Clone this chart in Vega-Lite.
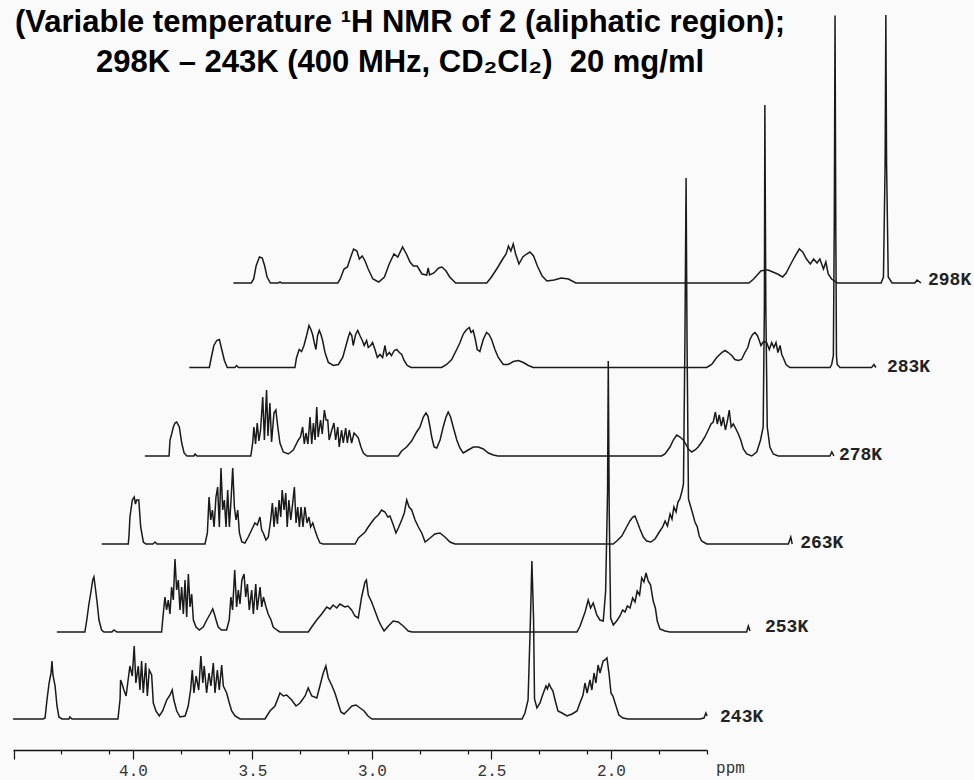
{
"$schema": "https://vega.github.io/schema/vega-lite/v6.json",
"width": 694, "height": 750,
"autosize": {"type": "none"},
"padding": {"left": 13, "top": 0, "right": 267, "bottom": 30},
"background": "#fafafa",
"title": {"text": ["(Variable temperature \u00b9H NMR of 2 (aliphatic region);", "298K \u2013 243K (400 MHz, CD\u2082Cl\u2082)\u00a0\u00a020 mg/ml"], "anchor": "middle", "frame": "group", "dx": 40, "offset": -79, "lineHeight": 40, "font": "Liberation Sans", "fontWeight": "bold", "fontSize": 31, "color": "#000"},
"config": {"view": {"stroke": null}},
"datasets": {
"K243": [{"t":"243K","x":4.502,"y":0},{"t":"243K","x":4.377,"y":0},{"t":"243K","x":4.368,"y":1},{"t":"243K","x":4.360,"y":19},{"t":"243K","x":4.351,"y":36},{"t":"243K","x":4.343,"y":46},{"t":"243K","x":4.339,"y":58},{"t":"243K","x":4.335,"y":44},{"t":"243K","x":4.326,"y":33},{"t":"243K","x":4.318,"y":13},{"t":"243K","x":4.310,"y":2},{"t":"243K","x":4.297,"y":0},{"t":"243K","x":4.268,"y":0},{"t":"243K","x":4.264,"y":2},{"t":"243K","x":4.255,"y":0},{"t":"243K","x":4.063,"y":0},{"t":"243K","x":4.054,"y":20},{"t":"243K","x":4.052,"y":39},{"t":"243K","x":4.047,"y":36},{"t":"243K","x":4.038,"y":29},{"t":"243K","x":4.029,"y":23},{"t":"243K","x":4.022,"y":36},{"t":"243K","x":4.013,"y":53},{"t":"243K","x":4.003,"y":43},{"t":"243K","x":3.995,"y":73},{"t":"243K","x":3.988,"y":36},{"t":"243K","x":3.978,"y":53},{"t":"243K","x":3.971,"y":29},{"t":"243K","x":3.964,"y":58},{"t":"243K","x":3.957,"y":26},{"t":"243K","x":3.947,"y":56},{"t":"243K","x":3.940,"y":23},{"t":"243K","x":3.932,"y":49},{"t":"243K","x":3.922,"y":44},{"t":"243K","x":3.915,"y":16},{"t":"243K","x":3.904,"y":8},{"t":"243K","x":3.890,"y":3},{"t":"243K","x":3.876,"y":8},{"t":"243K","x":3.859,"y":19},{"t":"243K","x":3.845,"y":24},{"t":"243K","x":3.836,"y":29},{"t":"243K","x":3.829,"y":19},{"t":"243K","x":3.817,"y":8},{"t":"243K","x":3.803,"y":2},{"t":"243K","x":3.782,"y":3},{"t":"243K","x":3.769,"y":13},{"t":"243K","x":3.759,"y":29},{"t":"243K","x":3.752,"y":49},{"t":"243K","x":3.745,"y":26},{"t":"243K","x":3.736,"y":43},{"t":"243K","x":3.725,"y":29},{"t":"243K","x":3.716,"y":63},{"t":"243K","x":3.708,"y":36},{"t":"243K","x":3.702,"y":53},{"t":"243K","x":3.692,"y":26},{"t":"243K","x":3.682,"y":46},{"t":"243K","x":3.674,"y":33},{"t":"243K","x":3.664,"y":56},{"t":"243K","x":3.657,"y":26},{"t":"243K","x":3.647,"y":49},{"t":"243K","x":3.639,"y":29},{"t":"243K","x":3.629,"y":54},{"t":"243K","x":3.622,"y":33},{"t":"243K","x":3.608,"y":26},{"t":"243K","x":3.597,"y":16},{"t":"243K","x":3.587,"y":8},{"t":"243K","x":3.573,"y":3},{"t":"243K","x":3.552,"y":0},{"t":"243K","x":3.448,"y":0},{"t":"243K","x":3.427,"y":8},{"t":"243K","x":3.406,"y":13},{"t":"243K","x":3.385,"y":26},{"t":"243K","x":3.371,"y":23},{"t":"243K","x":3.357,"y":24},{"t":"243K","x":3.336,"y":19},{"t":"243K","x":3.318,"y":13},{"t":"243K","x":3.301,"y":16},{"t":"243K","x":3.280,"y":23},{"t":"243K","x":3.267,"y":31},{"t":"243K","x":3.252,"y":23},{"t":"243K","x":3.231,"y":21},{"t":"243K","x":3.218,"y":33},{"t":"243K","x":3.204,"y":46},{"t":"243K","x":3.193,"y":53},{"t":"243K","x":3.183,"y":41},{"t":"243K","x":3.169,"y":34},{"t":"243K","x":3.155,"y":26},{"t":"243K","x":3.142,"y":16},{"t":"243K","x":3.130,"y":7},{"t":"243K","x":3.117,"y":5},{"t":"243K","x":3.100,"y":9},{"t":"243K","x":3.084,"y":13},{"t":"243K","x":3.067,"y":14},{"t":"243K","x":3.050,"y":11},{"t":"243K","x":3.033,"y":8},{"t":"243K","x":3.017,"y":3},{"t":"243K","x":3.000,"y":0},{"t":"243K","x":2.372,"y":0},{"t":"243K","x":2.360,"y":6},{"t":"243K","x":2.347,"y":19},{"t":"243K","x":2.337,"y":100},{"t":"243K","x":2.331,"y":158},{"t":"243K","x":2.324,"y":100},{"t":"243K","x":2.320,"y":20},{"t":"243K","x":2.310,"y":11},{"t":"243K","x":2.297,"y":16},{"t":"243K","x":2.289,"y":22},{"t":"243K","x":2.280,"y":28},{"t":"243K","x":2.272,"y":33},{"t":"243K","x":2.266,"y":30},{"t":"243K","x":2.259,"y":35},{"t":"243K","x":2.251,"y":31},{"t":"243K","x":2.243,"y":28},{"t":"243K","x":2.234,"y":19},{"t":"243K","x":2.222,"y":8},{"t":"243K","x":2.205,"y":6},{"t":"243K","x":2.184,"y":3},{"t":"243K","x":2.163,"y":5},{"t":"243K","x":2.142,"y":8},{"t":"243K","x":2.130,"y":16},{"t":"243K","x":2.117,"y":24},{"t":"243K","x":2.109,"y":36},{"t":"243K","x":2.100,"y":26},{"t":"243K","x":2.088,"y":39},{"t":"243K","x":2.080,"y":29},{"t":"243K","x":2.071,"y":46},{"t":"243K","x":2.063,"y":36},{"t":"243K","x":2.054,"y":54},{"t":"243K","x":2.046,"y":46},{"t":"243K","x":2.033,"y":58},{"t":"243K","x":2.025,"y":59},{"t":"243K","x":2.017,"y":61},{"t":"243K","x":2.008,"y":45},{"t":"243K","x":2.000,"y":26},{"t":"243K","x":1.992,"y":23},{"t":"243K","x":1.979,"y":13},{"t":"243K","x":1.967,"y":4},{"t":"243K","x":1.950,"y":1},{"t":"243K","x":1.929,"y":0},{"t":"243K","x":1.628,"y":0},{"t":"243K","x":1.611,"y":1},{"t":"243K","x":1.603,"y":6},{"t":"243K","x":1.598,"y":3}],
"K253": [{"t":"253K","x":4.500,"y":0},{"t":"253K","x":4.383,"y":0},{"t":"253K","x":4.375,"y":12},{"t":"253K","x":4.366,"y":28},{"t":"253K","x":4.359,"y":38},{"t":"253K","x":4.350,"y":52},{"t":"253K","x":4.345,"y":55},{"t":"253K","x":4.338,"y":42},{"t":"253K","x":4.331,"y":28},{"t":"253K","x":4.324,"y":12},{"t":"253K","x":4.313,"y":2},{"t":"253K","x":4.303,"y":0},{"t":"253K","x":4.270,"y":0},{"t":"253K","x":4.261,"y":2},{"t":"253K","x":4.249,"y":0},{"t":"253K","x":4.062,"y":0},{"t":"253K","x":4.055,"y":18},{"t":"253K","x":4.048,"y":35},{"t":"253K","x":4.041,"y":22},{"t":"253K","x":4.034,"y":32},{"t":"253K","x":4.027,"y":18},{"t":"253K","x":4.020,"y":45},{"t":"253K","x":4.013,"y":32},{"t":"253K","x":4.006,"y":73},{"t":"253K","x":3.999,"y":42},{"t":"253K","x":3.992,"y":52},{"t":"253K","x":3.985,"y":22},{"t":"253K","x":3.978,"y":45},{"t":"253K","x":3.971,"y":18},{"t":"253K","x":3.964,"y":52},{"t":"253K","x":3.957,"y":15},{"t":"253K","x":3.950,"y":58},{"t":"253K","x":3.943,"y":25},{"t":"253K","x":3.936,"y":38},{"t":"253K","x":3.929,"y":12},{"t":"253K","x":3.918,"y":5},{"t":"253K","x":3.904,"y":2},{"t":"253K","x":3.888,"y":5},{"t":"253K","x":3.873,"y":12},{"t":"253K","x":3.859,"y":18},{"t":"253K","x":3.848,"y":23},{"t":"253K","x":3.841,"y":18},{"t":"253K","x":3.834,"y":12},{"t":"253K","x":3.825,"y":5},{"t":"253K","x":3.811,"y":2},{"t":"253K","x":3.790,"y":2},{"t":"253K","x":3.779,"y":12},{"t":"253K","x":3.772,"y":35},{"t":"253K","x":3.765,"y":22},{"t":"253K","x":3.756,"y":62},{"t":"253K","x":3.748,"y":25},{"t":"253K","x":3.741,"y":42},{"t":"253K","x":3.734,"y":28},{"t":"253K","x":3.726,"y":52},{"t":"253K","x":3.717,"y":58},{"t":"253K","x":3.710,"y":35},{"t":"253K","x":3.703,"y":48},{"t":"253K","x":3.695,"y":22},{"t":"253K","x":3.685,"y":42},{"t":"253K","x":3.678,"y":18},{"t":"253K","x":3.668,"y":48},{"t":"253K","x":3.662,"y":22},{"t":"253K","x":3.650,"y":45},{"t":"253K","x":3.643,"y":25},{"t":"253K","x":3.636,"y":35},{"t":"253K","x":3.625,"y":25},{"t":"253K","x":3.616,"y":18},{"t":"253K","x":3.604,"y":12},{"t":"253K","x":3.595,"y":5},{"t":"253K","x":3.580,"y":2},{"t":"253K","x":3.567,"y":0},{"t":"253K","x":3.448,"y":0},{"t":"253K","x":3.434,"y":5},{"t":"253K","x":3.413,"y":12},{"t":"253K","x":3.392,"y":18},{"t":"253K","x":3.371,"y":25},{"t":"253K","x":3.357,"y":23},{"t":"253K","x":3.344,"y":27},{"t":"253K","x":3.329,"y":24},{"t":"253K","x":3.316,"y":28},{"t":"253K","x":3.295,"y":25},{"t":"253K","x":3.282,"y":26},{"t":"253K","x":3.267,"y":22},{"t":"253K","x":3.253,"y":16},{"t":"253K","x":3.239,"y":14},{"t":"253K","x":3.225,"y":35},{"t":"253K","x":3.211,"y":50},{"t":"253K","x":3.205,"y":52},{"t":"253K","x":3.197,"y":37},{"t":"253K","x":3.183,"y":30},{"t":"253K","x":3.169,"y":21},{"t":"253K","x":3.155,"y":12},{"t":"253K","x":3.141,"y":5},{"t":"253K","x":3.131,"y":1},{"t":"253K","x":3.113,"y":6},{"t":"253K","x":3.093,"y":11},{"t":"253K","x":3.072,"y":10},{"t":"253K","x":3.051,"y":6},{"t":"253K","x":3.030,"y":1},{"t":"253K","x":3.014,"y":0},{"t":"253K","x":2.324,"y":0},{"t":"253K","x":2.311,"y":6},{"t":"253K","x":2.290,"y":20},{"t":"253K","x":2.277,"y":32},{"t":"253K","x":2.267,"y":24},{"t":"253K","x":2.256,"y":29},{"t":"253K","x":2.241,"y":17},{"t":"253K","x":2.228,"y":12},{"t":"253K","x":2.214,"y":11},{"t":"253K","x":2.204,"y":41},{"t":"253K","x":2.196,"y":140},{"t":"253K","x":2.193,"y":271},{"t":"253K","x":2.189,"y":120},{"t":"253K","x":2.183,"y":14},{"t":"253K","x":2.172,"y":7},{"t":"253K","x":2.158,"y":11},{"t":"253K","x":2.144,"y":16},{"t":"253K","x":2.133,"y":22},{"t":"253K","x":2.123,"y":20},{"t":"253K","x":2.113,"y":26},{"t":"253K","x":2.102,"y":24},{"t":"253K","x":2.091,"y":34},{"t":"253K","x":2.081,"y":30},{"t":"253K","x":2.072,"y":41},{"t":"253K","x":2.062,"y":37},{"t":"253K","x":2.053,"y":54},{"t":"253K","x":2.044,"y":50},{"t":"253K","x":2.035,"y":59},{"t":"253K","x":2.026,"y":51},{"t":"253K","x":2.016,"y":47},{"t":"253K","x":2.005,"y":31},{"t":"253K","x":1.996,"y":24},{"t":"253K","x":1.988,"y":11},{"t":"253K","x":1.977,"y":3},{"t":"253K","x":1.956,"y":1},{"t":"253K","x":1.935,"y":0},{"t":"253K","x":1.614,"y":0},{"t":"253K","x":1.607,"y":6},{"t":"253K","x":1.600,"y":1}],
"K263": [{"t":"263K","x":4.494,"y":0},{"t":"263K","x":4.383,"y":0},{"t":"263K","x":4.380,"y":8},{"t":"263K","x":4.376,"y":27},{"t":"263K","x":4.366,"y":44},{"t":"263K","x":4.358,"y":47},{"t":"263K","x":4.353,"y":40},{"t":"263K","x":4.348,"y":44},{"t":"263K","x":4.339,"y":44},{"t":"263K","x":4.331,"y":17},{"t":"263K","x":4.320,"y":2},{"t":"263K","x":4.309,"y":0},{"t":"263K","x":4.280,"y":0},{"t":"263K","x":4.271,"y":2},{"t":"263K","x":4.263,"y":0},{"t":"263K","x":4.062,"y":0},{"t":"263K","x":4.052,"y":11},{"t":"263K","x":4.045,"y":47},{"t":"263K","x":4.038,"y":24},{"t":"263K","x":4.031,"y":34},{"t":"263K","x":4.024,"y":17},{"t":"263K","x":4.016,"y":47},{"t":"263K","x":4.009,"y":57},{"t":"263K","x":4.002,"y":17},{"t":"263K","x":3.995,"y":76},{"t":"263K","x":3.988,"y":34},{"t":"263K","x":3.981,"y":44},{"t":"263K","x":3.974,"y":17},{"t":"263K","x":3.967,"y":54},{"t":"263K","x":3.960,"y":17},{"t":"263K","x":3.953,"y":44},{"t":"263K","x":3.946,"y":76},{"t":"263K","x":3.939,"y":37},{"t":"263K","x":3.932,"y":24},{"t":"263K","x":3.925,"y":34},{"t":"263K","x":3.918,"y":11},{"t":"263K","x":3.908,"y":2},{"t":"263K","x":3.895,"y":1},{"t":"263K","x":3.881,"y":7},{"t":"263K","x":3.867,"y":14},{"t":"263K","x":3.853,"y":21},{"t":"263K","x":3.843,"y":19},{"t":"263K","x":3.832,"y":27},{"t":"263K","x":3.825,"y":14},{"t":"263K","x":3.818,"y":11},{"t":"263K","x":3.807,"y":4},{"t":"263K","x":3.797,"y":7},{"t":"263K","x":3.787,"y":24},{"t":"263K","x":3.780,"y":41},{"t":"263K","x":3.773,"y":17},{"t":"263K","x":3.766,"y":37},{"t":"263K","x":3.759,"y":20},{"t":"263K","x":3.752,"y":44},{"t":"263K","x":3.745,"y":27},{"t":"263K","x":3.739,"y":54},{"t":"263K","x":3.731,"y":34},{"t":"263K","x":3.724,"y":51},{"t":"263K","x":3.718,"y":17},{"t":"263K","x":3.711,"y":44},{"t":"263K","x":3.703,"y":24},{"t":"263K","x":3.695,"y":41},{"t":"263K","x":3.688,"y":57},{"t":"263K","x":3.681,"y":21},{"t":"263K","x":3.674,"y":37},{"t":"263K","x":3.667,"y":17},{"t":"263K","x":3.660,"y":37},{"t":"263K","x":3.652,"y":17},{"t":"263K","x":3.644,"y":37},{"t":"263K","x":3.635,"y":21},{"t":"263K","x":3.627,"y":27},{"t":"263K","x":3.620,"y":17},{"t":"263K","x":3.611,"y":21},{"t":"263K","x":3.602,"y":14},{"t":"263K","x":3.592,"y":7},{"t":"263K","x":3.581,"y":1},{"t":"263K","x":3.568,"y":0},{"t":"263K","x":3.434,"y":0},{"t":"263K","x":3.420,"y":6},{"t":"263K","x":3.406,"y":9},{"t":"263K","x":3.392,"y":12},{"t":"263K","x":3.379,"y":17},{"t":"263K","x":3.364,"y":22},{"t":"263K","x":3.351,"y":26},{"t":"263K","x":3.337,"y":29},{"t":"263K","x":3.323,"y":34},{"t":"263K","x":3.309,"y":32},{"t":"263K","x":3.297,"y":27},{"t":"263K","x":3.288,"y":28},{"t":"263K","x":3.274,"y":19},{"t":"263K","x":3.263,"y":11},{"t":"263K","x":3.253,"y":16},{"t":"263K","x":3.239,"y":24},{"t":"263K","x":3.228,"y":31},{"t":"263K","x":3.218,"y":44},{"t":"263K","x":3.208,"y":37},{"t":"263K","x":3.197,"y":34},{"t":"263K","x":3.183,"y":24},{"t":"263K","x":3.169,"y":17},{"t":"263K","x":3.155,"y":11},{"t":"263K","x":3.141,"y":2},{"t":"263K","x":3.120,"y":6},{"t":"263K","x":3.100,"y":10},{"t":"263K","x":3.079,"y":11},{"t":"263K","x":3.058,"y":7},{"t":"263K","x":3.037,"y":2},{"t":"263K","x":3.016,"y":0},{"t":"263K","x":2.354,"y":0},{"t":"263K","x":2.339,"y":3},{"t":"263K","x":2.318,"y":8},{"t":"263K","x":2.298,"y":17},{"t":"263K","x":2.284,"y":23},{"t":"263K","x":2.272,"y":27},{"t":"263K","x":2.263,"y":28},{"t":"263K","x":2.253,"y":22},{"t":"263K","x":2.242,"y":15},{"t":"263K","x":2.228,"y":7},{"t":"263K","x":2.214,"y":3},{"t":"263K","x":2.197,"y":2},{"t":"263K","x":2.179,"y":5},{"t":"263K","x":2.161,"y":12},{"t":"263K","x":2.147,"y":17},{"t":"263K","x":2.137,"y":23},{"t":"263K","x":2.127,"y":18},{"t":"263K","x":2.116,"y":30},{"t":"263K","x":2.108,"y":25},{"t":"263K","x":2.100,"y":37},{"t":"263K","x":2.091,"y":32},{"t":"263K","x":2.083,"y":42},{"t":"263K","x":2.075,"y":45},{"t":"263K","x":2.066,"y":53},{"t":"263K","x":2.060,"y":60},{"t":"263K","x":2.054,"y":200},{"t":"263K","x":2.049,"y":366},{"t":"263K","x":2.045,"y":200},{"t":"263K","x":2.039,"y":45},{"t":"263K","x":2.033,"y":40},{"t":"263K","x":2.021,"y":30},{"t":"263K","x":2.012,"y":22},{"t":"263K","x":2.002,"y":17},{"t":"263K","x":1.994,"y":8},{"t":"263K","x":1.984,"y":3},{"t":"263K","x":1.963,"y":0},{"t":"263K","x":1.621,"y":0},{"t":"263K","x":1.611,"y":7},{"t":"263K","x":1.605,"y":0}],
"K278": [{"t":"278K","x":4.495,"y":0},{"t":"278K","x":4.394,"y":0},{"t":"278K","x":4.390,"y":16},{"t":"278K","x":4.383,"y":22},{"t":"278K","x":4.376,"y":29},{"t":"278K","x":4.369,"y":33},{"t":"278K","x":4.362,"y":34},{"t":"278K","x":4.351,"y":29},{"t":"278K","x":4.341,"y":13},{"t":"278K","x":4.331,"y":3},{"t":"278K","x":4.319,"y":0},{"t":"278K","x":4.290,"y":0},{"t":"278K","x":4.285,"y":2},{"t":"278K","x":4.277,"y":0},{"t":"278K","x":4.052,"y":0},{"t":"278K","x":4.044,"y":13},{"t":"278K","x":4.039,"y":29},{"t":"278K","x":4.032,"y":12},{"t":"278K","x":4.025,"y":33},{"t":"278K","x":4.018,"y":15},{"t":"278K","x":4.011,"y":26},{"t":"278K","x":4.002,"y":59},{"t":"278K","x":3.995,"y":16},{"t":"278K","x":3.986,"y":66},{"t":"278K","x":3.980,"y":20},{"t":"278K","x":3.972,"y":53},{"t":"278K","x":3.965,"y":14},{"t":"278K","x":3.955,"y":43},{"t":"278K","x":3.947,"y":46},{"t":"278K","x":3.939,"y":29},{"t":"278K","x":3.930,"y":13},{"t":"278K","x":3.916,"y":4},{"t":"278K","x":3.895,"y":2},{"t":"278K","x":3.874,"y":6},{"t":"278K","x":3.853,"y":16},{"t":"278K","x":3.844,"y":19},{"t":"278K","x":3.835,"y":29},{"t":"278K","x":3.828,"y":12},{"t":"278K","x":3.821,"y":23},{"t":"278K","x":3.813,"y":12},{"t":"278K","x":3.804,"y":39},{"t":"278K","x":3.797,"y":12},{"t":"278K","x":3.790,"y":33},{"t":"278K","x":3.783,"y":16},{"t":"278K","x":3.776,"y":49},{"t":"278K","x":3.770,"y":19},{"t":"278K","x":3.760,"y":36},{"t":"278K","x":3.753,"y":22},{"t":"278K","x":3.744,"y":46},{"t":"278K","x":3.737,"y":36},{"t":"278K","x":3.730,"y":36},{"t":"278K","x":3.724,"y":16},{"t":"278K","x":3.713,"y":26},{"t":"278K","x":3.704,"y":33},{"t":"278K","x":3.697,"y":16},{"t":"278K","x":3.688,"y":29},{"t":"278K","x":3.682,"y":9},{"t":"278K","x":3.672,"y":26},{"t":"278K","x":3.665,"y":13},{"t":"278K","x":3.655,"y":28},{"t":"278K","x":3.648,"y":13},{"t":"278K","x":3.640,"y":26},{"t":"278K","x":3.630,"y":13},{"t":"278K","x":3.620,"y":23},{"t":"278K","x":3.612,"y":21},{"t":"278K","x":3.602,"y":18},{"t":"278K","x":3.591,"y":9},{"t":"278K","x":3.581,"y":3},{"t":"278K","x":3.566,"y":0},{"t":"278K","x":3.435,"y":0},{"t":"278K","x":3.421,"y":5},{"t":"278K","x":3.400,"y":9},{"t":"278K","x":3.379,"y":15},{"t":"278K","x":3.358,"y":24},{"t":"278K","x":3.344,"y":29},{"t":"278K","x":3.330,"y":39},{"t":"278K","x":3.319,"y":43},{"t":"278K","x":3.311,"y":40},{"t":"278K","x":3.302,"y":29},{"t":"278K","x":3.295,"y":19},{"t":"278K","x":3.285,"y":9},{"t":"278K","x":3.274,"y":8},{"t":"278K","x":3.260,"y":16},{"t":"278K","x":3.247,"y":29},{"t":"278K","x":3.235,"y":39},{"t":"278K","x":3.226,"y":44},{"t":"278K","x":3.216,"y":39},{"t":"278K","x":3.205,"y":29},{"t":"278K","x":3.190,"y":16},{"t":"278K","x":3.177,"y":8},{"t":"278K","x":3.163,"y":3},{"t":"278K","x":3.142,"y":6},{"t":"278K","x":3.121,"y":9},{"t":"278K","x":3.100,"y":9},{"t":"278K","x":3.079,"y":7},{"t":"278K","x":3.058,"y":3},{"t":"278K","x":3.037,"y":1},{"t":"278K","x":3.018,"y":0},{"t":"278K","x":2.333,"y":0},{"t":"278K","x":2.319,"y":2},{"t":"278K","x":2.298,"y":9},{"t":"278K","x":2.284,"y":16},{"t":"278K","x":2.270,"y":21},{"t":"278K","x":2.256,"y":19},{"t":"278K","x":2.242,"y":16},{"t":"278K","x":2.232,"y":12},{"t":"278K","x":2.221,"y":7},{"t":"278K","x":2.207,"y":4},{"t":"278K","x":2.193,"y":6},{"t":"278K","x":2.180,"y":9},{"t":"278K","x":2.165,"y":14},{"t":"278K","x":2.152,"y":19},{"t":"278K","x":2.138,"y":26},{"t":"278K","x":2.126,"y":32},{"t":"278K","x":2.117,"y":34},{"t":"278K","x":2.108,"y":44},{"t":"278K","x":2.100,"y":32},{"t":"278K","x":2.092,"y":41},{"t":"278K","x":2.083,"y":30},{"t":"278K","x":2.075,"y":39},{"t":"278K","x":2.066,"y":26},{"t":"278K","x":2.057,"y":36},{"t":"278K","x":2.050,"y":46},{"t":"278K","x":2.042,"y":29},{"t":"278K","x":2.033,"y":32},{"t":"278K","x":2.022,"y":27},{"t":"278K","x":2.012,"y":22},{"t":"278K","x":2.002,"y":16},{"t":"278K","x":1.991,"y":7},{"t":"278K","x":1.977,"y":2},{"t":"278K","x":1.956,"y":0},{"t":"278K","x":1.935,"y":4},{"t":"278K","x":1.919,"y":16},{"t":"278K","x":1.908,"y":29},{"t":"278K","x":1.903,"y":150},{"t":"278K","x":1.901,"y":351},{"t":"278K","x":1.897,"y":150},{"t":"278K","x":1.891,"y":29},{"t":"278K","x":1.880,"y":9},{"t":"278K","x":1.866,"y":2},{"t":"278K","x":1.845,"y":0},{"t":"278K","x":1.629,"y":0},{"t":"278K","x":1.621,"y":4},{"t":"278K","x":1.612,"y":0}],
"K283": [{"t":"283K","x":4.491,"y":0},{"t":"283K","x":4.407,"y":0},{"t":"283K","x":4.397,"y":12},{"t":"283K","x":4.388,"y":22},{"t":"283K","x":4.376,"y":27},{"t":"283K","x":4.365,"y":28},{"t":"283K","x":4.355,"y":18},{"t":"283K","x":4.344,"y":7},{"t":"283K","x":4.332,"y":0},{"t":"283K","x":4.300,"y":0},{"t":"283K","x":4.293,"y":2},{"t":"283K","x":4.285,"y":0},{"t":"283K","x":4.049,"y":0},{"t":"283K","x":4.042,"y":10},{"t":"283K","x":4.031,"y":18},{"t":"283K","x":4.021,"y":16},{"t":"283K","x":4.011,"y":22},{"t":"283K","x":4.000,"y":32},{"t":"283K","x":3.990,"y":42},{"t":"283K","x":3.982,"y":38},{"t":"283K","x":3.975,"y":33},{"t":"283K","x":3.968,"y":25},{"t":"283K","x":3.961,"y":18},{"t":"283K","x":3.954,"y":32},{"t":"283K","x":3.947,"y":37},{"t":"283K","x":3.940,"y":33},{"t":"283K","x":3.933,"y":27},{"t":"283K","x":3.923,"y":15},{"t":"283K","x":3.909,"y":5},{"t":"283K","x":3.888,"y":2},{"t":"283K","x":3.867,"y":3},{"t":"283K","x":3.849,"y":10},{"t":"283K","x":3.835,"y":22},{"t":"283K","x":3.826,"y":30},{"t":"283K","x":3.819,"y":35},{"t":"283K","x":3.811,"y":32},{"t":"283K","x":3.805,"y":22},{"t":"283K","x":3.795,"y":33},{"t":"283K","x":3.786,"y":37},{"t":"283K","x":3.777,"y":32},{"t":"283K","x":3.767,"y":27},{"t":"283K","x":3.759,"y":22},{"t":"283K","x":3.749,"y":27},{"t":"283K","x":3.742,"y":20},{"t":"283K","x":3.732,"y":22},{"t":"283K","x":3.724,"y":25},{"t":"283K","x":3.714,"y":18},{"t":"283K","x":3.704,"y":10},{"t":"283K","x":3.693,"y":13},{"t":"283K","x":3.682,"y":10},{"t":"283K","x":3.672,"y":22},{"t":"283K","x":3.665,"y":12},{"t":"283K","x":3.654,"y":15},{"t":"283K","x":3.645,"y":12},{"t":"283K","x":3.633,"y":17},{"t":"283K","x":3.623,"y":18},{"t":"283K","x":3.612,"y":15},{"t":"283K","x":3.602,"y":13},{"t":"283K","x":3.592,"y":7},{"t":"283K","x":3.579,"y":2},{"t":"283K","x":3.563,"y":0},{"t":"283K","x":3.435,"y":0},{"t":"283K","x":3.414,"y":3},{"t":"283K","x":3.393,"y":8},{"t":"283K","x":3.372,"y":18},{"t":"283K","x":3.358,"y":25},{"t":"283K","x":3.347,"y":32},{"t":"283K","x":3.340,"y":35},{"t":"283K","x":3.330,"y":38},{"t":"283K","x":3.319,"y":40},{"t":"283K","x":3.312,"y":35},{"t":"283K","x":3.303,"y":37},{"t":"283K","x":3.294,"y":28},{"t":"283K","x":3.286,"y":18},{"t":"283K","x":3.275,"y":16},{"t":"283K","x":3.261,"y":28},{"t":"283K","x":3.247,"y":35},{"t":"283K","x":3.237,"y":33},{"t":"283K","x":3.226,"y":28},{"t":"283K","x":3.212,"y":18},{"t":"283K","x":3.198,"y":10},{"t":"283K","x":3.177,"y":3},{"t":"283K","x":3.157,"y":3},{"t":"283K","x":3.135,"y":6},{"t":"283K","x":3.114,"y":7},{"t":"283K","x":3.093,"y":5},{"t":"283K","x":3.072,"y":2},{"t":"283K","x":3.052,"y":0},{"t":"283K","x":2.326,"y":0},{"t":"283K","x":2.305,"y":3},{"t":"283K","x":2.284,"y":10},{"t":"283K","x":2.263,"y":15},{"t":"283K","x":2.249,"y":17},{"t":"283K","x":2.236,"y":15},{"t":"283K","x":2.221,"y":12},{"t":"283K","x":2.208,"y":8},{"t":"283K","x":2.194,"y":7},{"t":"283K","x":2.180,"y":8},{"t":"283K","x":2.166,"y":15},{"t":"283K","x":2.154,"y":20},{"t":"283K","x":2.145,"y":28},{"t":"283K","x":2.134,"y":33},{"t":"283K","x":2.124,"y":35},{"t":"283K","x":2.114,"y":32},{"t":"283K","x":2.106,"y":27},{"t":"283K","x":2.099,"y":22},{"t":"283K","x":2.088,"y":26},{"t":"283K","x":2.075,"y":25},{"t":"283K","x":2.064,"y":18},{"t":"283K","x":2.054,"y":25},{"t":"283K","x":2.045,"y":20},{"t":"283K","x":2.036,"y":25},{"t":"283K","x":2.028,"y":15},{"t":"283K","x":2.019,"y":22},{"t":"283K","x":2.012,"y":13},{"t":"283K","x":2.006,"y":10},{"t":"283K","x":1.994,"y":3},{"t":"283K","x":1.978,"y":0},{"t":"283K","x":1.810,"y":0},{"t":"283K","x":1.803,"y":3},{"t":"283K","x":1.796,"y":12},{"t":"283K","x":1.792,"y":150},{"t":"283K","x":1.789,"y":352},{"t":"283K","x":1.786,"y":150},{"t":"283K","x":1.783,"y":12},{"t":"283K","x":1.780,"y":3},{"t":"283K","x":1.768,"y":0},{"t":"283K","x":1.636,"y":0},{"t":"283K","x":1.626,"y":3},{"t":"283K","x":1.618,"y":0}],
"K298": [{"t":"298K","x":4.488,"y":0},{"t":"298K","x":4.413,"y":0},{"t":"298K","x":4.403,"y":4},{"t":"298K","x":4.393,"y":17},{"t":"298K","x":4.379,"y":26},{"t":"298K","x":4.367,"y":25},{"t":"298K","x":4.357,"y":17},{"t":"298K","x":4.347,"y":6},{"t":"298K","x":4.333,"y":0},{"t":"298K","x":4.301,"y":0},{"t":"298K","x":4.293,"y":1},{"t":"298K","x":4.285,"y":0},{"t":"298K","x":4.051,"y":0},{"t":"298K","x":4.041,"y":4},{"t":"298K","x":4.025,"y":14},{"t":"298K","x":4.011,"y":16},{"t":"298K","x":3.997,"y":26},{"t":"298K","x":3.985,"y":34},{"t":"298K","x":3.971,"y":32},{"t":"298K","x":3.961,"y":24},{"t":"298K","x":3.949,"y":27},{"t":"298K","x":3.937,"y":22},{"t":"298K","x":3.924,"y":14},{"t":"298K","x":3.904,"y":4},{"t":"298K","x":3.880,"y":1},{"t":"298K","x":3.856,"y":6},{"t":"298K","x":3.836,"y":19},{"t":"298K","x":3.816,"y":29},{"t":"298K","x":3.800,"y":26},{"t":"298K","x":3.780,"y":36},{"t":"298K","x":3.764,"y":29},{"t":"298K","x":3.749,"y":21},{"t":"298K","x":3.735,"y":17},{"t":"298K","x":3.719,"y":17},{"t":"298K","x":3.699,"y":9},{"t":"298K","x":3.679,"y":8},{"t":"298K","x":3.673,"y":15},{"t":"298K","x":3.667,"y":8},{"t":"298K","x":3.649,"y":10},{"t":"298K","x":3.629,"y":15},{"t":"298K","x":3.615,"y":16},{"t":"298K","x":3.598,"y":12},{"t":"298K","x":3.583,"y":6},{"t":"298K","x":3.558,"y":0},{"t":"298K","x":3.428,"y":0},{"t":"298K","x":3.408,"y":6},{"t":"298K","x":3.381,"y":16},{"t":"298K","x":3.361,"y":24},{"t":"298K","x":3.347,"y":29},{"t":"298K","x":3.337,"y":37},{"t":"298K","x":3.327,"y":32},{"t":"298K","x":3.317,"y":39},{"t":"298K","x":3.307,"y":29},{"t":"298K","x":3.293,"y":19},{"t":"298K","x":3.277,"y":26},{"t":"298K","x":3.261,"y":29},{"t":"298K","x":3.247,"y":31},{"t":"298K","x":3.232,"y":27},{"t":"298K","x":3.216,"y":17},{"t":"298K","x":3.196,"y":7},{"t":"298K","x":3.176,"y":2},{"t":"298K","x":3.146,"y":3},{"t":"298K","x":3.116,"y":5},{"t":"298K","x":3.086,"y":4},{"t":"298K","x":3.055,"y":0},{"t":"298K","x":2.331,"y":0},{"t":"298K","x":2.311,"y":4},{"t":"298K","x":2.281,"y":12},{"t":"298K","x":2.261,"y":13},{"t":"298K","x":2.251,"y":13},{"t":"298K","x":2.231,"y":11},{"t":"298K","x":2.211,"y":9},{"t":"298K","x":2.190,"y":6},{"t":"298K","x":2.175,"y":10},{"t":"298K","x":2.160,"y":17},{"t":"298K","x":2.140,"y":26},{"t":"298K","x":2.120,"y":34},{"t":"298K","x":2.106,"y":31},{"t":"298K","x":2.090,"y":24},{"t":"298K","x":2.074,"y":19},{"t":"298K","x":2.060,"y":24},{"t":"298K","x":2.046,"y":20},{"t":"298K","x":2.034,"y":24},{"t":"298K","x":2.019,"y":14},{"t":"298K","x":2.009,"y":21},{"t":"298K","x":1.999,"y":9},{"t":"298K","x":1.985,"y":4},{"t":"298K","x":1.960,"y":0},{"t":"298K","x":1.778,"y":0},{"t":"298K","x":1.768,"y":6},{"t":"298K","x":1.761,"y":120},{"t":"298K","x":1.758,"y":268},{"t":"298K","x":1.755,"y":120},{"t":"298K","x":1.748,"y":6},{"t":"298K","x":1.732,"y":0},{"t":"298K","x":1.637,"y":0},{"t":"298K","x":1.627,"y":3},{"t":"298K","x":1.611,"y":0}]
},
"layer": [
{"data": {"name": "K243"}, "layer": [
 {"mark": {"type": "line", "color": "#1a1a1a", "strokeWidth": 1.5},
  "encoding": {"x": {"field": "x", "type": "quantitative", "scale": {"domain": [1.5983, 4.5021], "reverse": true, "nice": false, "zero": false},
    "axis": {"orient": "bottom", "values": [4.4,4.3,4.2,4.1,3.9,3.8,3.7,3.6,3.4,3.3,3.2,3.1,2.9,2.8,2.7,2.6,2.4,2.3,2.2,2.1,1.9,1.8,1.7,1.6], "labels": false, "tickSize": 4, "tickWidth": 1.2, "tickColor": "#111", "domain": true, "domainColor": "#111", "domainWidth": 1.6, "grid": false, "title": null}},
   "y": {"field": "y", "type": "quantitative", "scale": {"domain": [-31, 719], "nice": false, "zero": false}, "axis": null}}},
 {"mark": {"type": "text", "align": "left", "baseline": "middle", "dx": 13, "dy": -2, "font": "Liberation Mono", "fontWeight": "bold", "fontSize": 18, "color": "#222"},
  "encoding": {"x": {"aggregate": "min", "field": "x", "type": "quantitative", "scale": {"domain": [1.5983, 4.5021], "reverse": true, "nice": false, "zero": false}},
   "y": {"datum": 0, "type": "quantitative", "scale": {"domain": [-31, 719], "nice": false, "zero": false}}, "text": {"field": "t"}}}
]},
{"data": {"name": "K253"}, "layer": [
 {"mark": {"type": "line", "color": "#1a1a1a", "strokeWidth": 1.5},
  "encoding": {"x": {"field": "x", "type": "quantitative", "scale": {"domain": [1.7799, 4.6837], "reverse": true, "nice": false, "zero": false}, "axis": null},
   "y": {"field": "y", "type": "quantitative", "scale": {"domain": [-118, 632], "nice": false, "zero": false}, "axis": null}}},
 {"mark": {"type": "text", "align": "left", "baseline": "middle", "dx": 15, "dy": -5, "font": "Liberation Mono", "fontWeight": "bold", "fontSize": 18, "color": "#222"},
  "encoding": {"x": {"aggregate": "min", "field": "x", "type": "quantitative", "scale": {"domain": [1.7799, 4.6837], "reverse": true, "nice": false, "zero": false}},
   "y": {"datum": 0, "type": "quantitative", "scale": {"domain": [-118, 632], "nice": false, "zero": false}}, "text": {"field": "t"}}}
]},
{"data": {"name": "K263"}, "layer": [
 {"mark": {"type": "line", "color": "#1a1a1a", "strokeWidth": 1.5},
  "encoding": {"x": {"field": "x", "type": "quantitative", "scale": {"domain": [1.9615, 4.8653], "reverse": true, "nice": false, "zero": false}, "axis": null},
   "y": {"field": "y", "type": "quantitative", "scale": {"domain": [-206, 544], "nice": false, "zero": false}, "axis": null}}},
 {"mark": {"type": "text", "align": "left", "baseline": "middle", "dx": 8, "dy": -1, "font": "Liberation Mono", "fontWeight": "bold", "fontSize": 18, "color": "#222"},
  "encoding": {"x": {"aggregate": "min", "field": "x", "type": "quantitative", "scale": {"domain": [1.9615, 4.8653], "reverse": true, "nice": false, "zero": false}},
   "y": {"datum": 0, "type": "quantitative", "scale": {"domain": [-206, 544], "nice": false, "zero": false}}, "text": {"field": "t"}}}
]},
{"data": {"name": "K278"}, "layer": [
 {"mark": {"type": "line", "color": "#1a1a1a", "strokeWidth": 1.5},
  "encoding": {"x": {"field": "x", "type": "quantitative", "scale": {"domain": [2.1431, 5.0469], "reverse": true, "nice": false, "zero": false}, "axis": null},
   "y": {"field": "y", "type": "quantitative", "scale": {"domain": [-294, 456], "nice": false, "zero": false}, "axis": null}}},
 {"mark": {"type": "text", "align": "left", "baseline": "middle", "dx": 5, "dy": -1, "font": "Liberation Mono", "fontWeight": "bold", "fontSize": 18, "color": "#222"},
  "encoding": {"x": {"aggregate": "min", "field": "x", "type": "quantitative", "scale": {"domain": [2.1431, 5.0469], "reverse": true, "nice": false, "zero": false}},
   "y": {"datum": 0, "type": "quantitative", "scale": {"domain": [-294, 456], "nice": false, "zero": false}}, "text": {"field": "t"}}}
]},
{"data": {"name": "K283"}, "layer": [
 {"mark": {"type": "line", "color": "#1a1a1a", "strokeWidth": 1.5},
  "encoding": {"x": {"field": "x", "type": "quantitative", "scale": {"domain": [2.3247, 5.2285], "reverse": true, "nice": false, "zero": false}, "axis": null},
   "y": {"field": "y", "type": "quantitative", "scale": {"domain": [-382.5, 367.5], "nice": false, "zero": false}, "axis": null}}},
 {"mark": {"type": "text", "align": "left", "baseline": "middle", "dx": 11, "dy": -1, "font": "Liberation Mono", "fontWeight": "bold", "fontSize": 18, "color": "#222"},
  "encoding": {"x": {"aggregate": "min", "field": "x", "type": "quantitative", "scale": {"domain": [2.3247, 5.2285], "reverse": true, "nice": false, "zero": false}},
   "y": {"datum": 0, "type": "quantitative", "scale": {"domain": [-382.5, 367.5], "nice": false, "zero": false}}, "text": {"field": "t"}}}
]},
{"data": {"name": "K298"}, "layer": [
 {"mark": {"type": "line", "color": "#1a1a1a", "strokeWidth": 1.5},
  "encoding": {"x": {"field": "x", "type": "quantitative", "scale": {"domain": [2.5063, 5.4101], "reverse": true, "nice": false, "zero": false}, "axis": null},
   "y": {"field": "y", "type": "quantitative", "scale": {"domain": [-467, 283], "nice": false, "zero": false}, "axis": null}}},
 {"mark": {"type": "text", "align": "left", "baseline": "middle", "dx": 7, "dy": -3, "font": "Liberation Mono", "fontWeight": "bold", "fontSize": 18, "color": "#222"},
  "encoding": {"x": {"aggregate": "min", "field": "x", "type": "quantitative", "scale": {"domain": [2.5063, 5.4101], "reverse": true, "nice": false, "zero": false}},
   "y": {"datum": 0, "type": "quantitative", "scale": {"domain": [-467, 283], "nice": false, "zero": false}}, "text": {"field": "t"}}}
]},
{"data": {"values": [{"x": 3.0}]},
 "mark": {"type": "point", "opacity": 0},
 "encoding": {"x": {"field": "x", "type": "quantitative", "scale": {"domain": [1.5983, 4.5021], "reverse": true, "nice": false, "zero": false},
   "axis": {"orient": "bottom", "values": [4.5, 4.0, 3.5, 3.0, 2.5, 2.0], "format": ".1f", "labelExpr": "datum.value > 4.4 ? '' : datum.label", "tickSize": 9, "tickWidth": 1.2, "tickColor": "#111", "domain": false, "grid": false, "labelFlush": false, "labelOverlap": false, "labelPadding": 3, "labelFont": "Liberation Mono", "labelFontSize": 16, "labelColor": "#333",
    "title": "ppm", "titleFont": "Liberation Mono", "titleFontWeight": "normal", "titleFontSize": 16, "titleColor": "#333", "titleX": 717, "titleY": 22, "titleAlign": "center", "titleBaseline": "alphabetic", "titleAngle": 0}}}}
],
"resolve": {"scale": {"x": "independent", "y": "independent"}, "axis": {"x": "independent", "y": "independent"}}
}
